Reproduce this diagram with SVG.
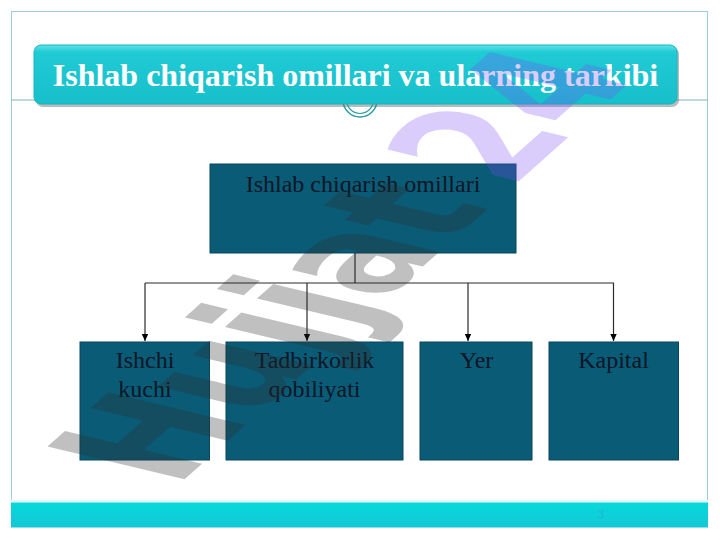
<svg xmlns="http://www.w3.org/2000/svg" width="720" height="540" viewBox="0 0 720 540">
  <defs>
    <linearGradient id="titleGrad" x1="0" y1="0" x2="0" y2="1">
      <stop offset="0" stop-color="#5fe3ea"/>
      <stop offset="0.12" stop-color="#20cbd5"/>
      <stop offset="1" stop-color="#17bfcb"/>
    </linearGradient>
    <linearGradient id="bandGrad" x1="0" y1="0" x2="0" y2="1">
      <stop offset="0" stop-color="#08d8dc"/>
      <stop offset="1" stop-color="#14c8d6"/>
    </linearGradient>
    <marker id="arrow" markerWidth="8" markerHeight="8" refX="7" refY="4" orient="auto" markerUnits="userSpaceOnUse">
      <path d="M0,0.8 L7,4 L0,7.2 Z" fill="#000"/>
    </marker>
    <style>
      .box { fill: #0a5b76; stroke: #07475d; stroke-width: 1; }
      .lbl { font-family: "Liberation Serif", "Times New Roman", serif; font-size: 24px; fill: #0b1626; text-anchor: middle; }
      .conn { fill: none; stroke: #2a2a2a; stroke-width: 1.2; }
      .frame { fill: none; stroke: #9ccfd3; stroke-width: 1; }
    </style>
  </defs>

  <rect x="0" y="0" width="720" height="540" fill="#ffffff"/>

  <!-- slide frame -->
  <g id="frame">
    <rect class="frame" x="11.5" y="11.5" width="696" height="490"/>
    <line x1="11" y1="100" x2="708" y2="100" stroke="#7fb2b8" stroke-width="1"/>
    <rect x="11" y="500" width="697" height="2.5" fill="#dff8fa"/>
    <rect x="11" y="502.5" width="697" height="25" fill="url(#bandGrad)"/>
    <text x="601" y="518" font-family="Liberation Serif, serif" font-size="12" fill="#1ab4c4" text-anchor="middle">3</text>
  </g>

  <!-- title -->
  <g id="title">
    <circle cx="360" cy="100" r="17" fill="#ffffff" stroke="#2f9ea4" stroke-width="1.5"/>
    <circle cx="360" cy="100" r="13.5" fill="none" stroke="#2f9ea4" stroke-width="1.2"/>
    <rect x="36" y="47" width="643" height="60" rx="7" fill="#5a6c70" opacity="0.45"/>
    <rect x="34" y="45" width="643" height="59" rx="7" fill="url(#titleGrad)" stroke="#19b3bf" stroke-width="1"/>
    <text x="355.5" y="86" font-family="Liberation Serif, 'Times New Roman', serif" font-size="32" font-weight="bold" fill="#ffffff" text-anchor="middle">Ishlab chiqarish omillari va ularning tarkibi</text>
  </g>

  <!-- connectors -->
  <g id="connectors">
    <path class="conn" d="M355,253 V283"/>
    <path class="conn" d="M145,283 H614"/>
    <path class="conn" d="M145,283 V341" marker-end="url(#arrow)"/>
    <path class="conn" d="M307,283 V341" marker-end="url(#arrow)"/>
    <path class="conn" d="M468,283 V341" marker-end="url(#arrow)"/>
    <path class="conn" d="M613.5,283 V341" marker-end="url(#arrow)"/>
  </g>

  <!-- nodes -->
  <g id="node-root">
    <rect class="box" x="210" y="164" width="306" height="89"/>
    <text class="lbl" x="363" y="192">Ishlab chiqarish omillari</text>
  </g>
  <g id="node-ishchi">
    <rect class="box" x="80" y="342" width="129.5" height="118"/>
    <text class="lbl" x="145" y="368">Ishchi</text>
    <text class="lbl" x="145" y="397">kuchi</text>
  </g>
  <g id="node-tadbirkorlik">
    <rect class="box" x="226" y="342" width="177" height="118"/>
    <text class="lbl" x="314.5" y="368">Tadbirkorlik</text>
    <text class="lbl" x="314.5" y="397">qobiliyati</text>
  </g>
  <g id="node-yer">
    <rect class="box" x="420" y="342" width="112" height="118"/>
    <text class="lbl" x="476.5" y="368">Yer</text>
  </g>
  <g id="node-kapital">
    <rect class="box" x="549" y="342" width="129.5" height="118"/>
    <text class="lbl" x="613.5" y="368">Kapital</text>
  </g>

  <!-- watermark -->
  <g id="watermark">
    <text transform="matrix(0.93,-0.83,1.88,0.45,176,487)" x="0" y="0" font-family="'DejaVu Sans', sans-serif" font-weight="bold" font-size="100"><tspan fill="#303030" fill-opacity="0.3">Hujjat</tspan><tspan dx="22" fill="#7b4df5" fill-opacity="0.28">24</tspan></text>
  </g>
</svg>
